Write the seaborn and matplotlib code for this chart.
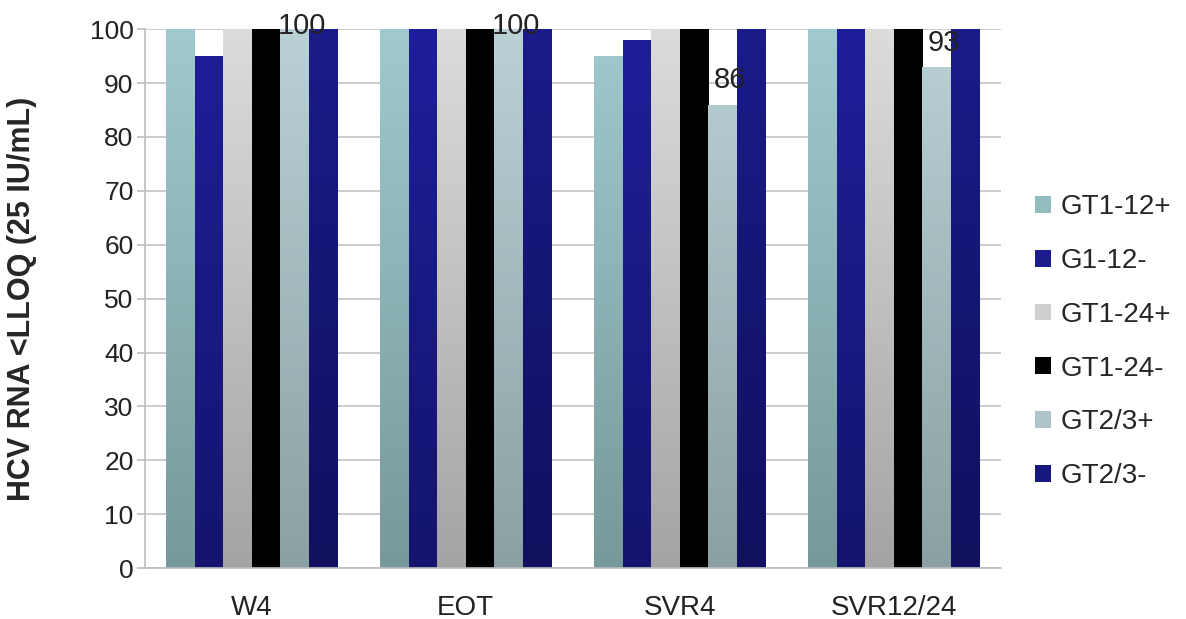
import numpy as np
import pandas as pd
import matplotlib
matplotlib.use('Agg')
import matplotlib.pyplot as plt
import seaborn as sns
from matplotlib.colors import LinearSegmentedColormap
from matplotlib.patches import Patch

# data
timepoints = ['W4', 'EOT', 'SVR4', 'SVR12/24']
groups = ['GT1-12+', 'G1-12-', 'GT1-24+', 'GT1-24-', 'GT2/3+', 'GT2/3-']
gt1_12_pos = [100, 100, 95, 100]
g1_12_neg = [95, 100, 98, 100]
gt1_24_pos = [100, 100, 100, 100]
gt1_24_neg = [100, 100, 100, 100]
gt23_pos = [100, 100, 86, 93]
gt23_neg = [100, 100, 100, 100]
labels_shown = ['100', '100', '86', '93']   # data labels for GT2/3+

series = [gt1_12_pos, g1_12_neg, gt1_24_pos, gt1_24_neg, gt23_pos, gt23_neg]
rows = []
for g, vals in zip(groups, series):
    for t, v in zip(timepoints, vals):
        rows.append({'Timepoint': t, 'Group': g, 'Value': v})
df = pd.DataFrame(rows)

# gradient colours (top, bottom)
grads = [('#a0cacd', '#76999b'),
         ('#1e1e9a', '#14146e'),
         ('#dcdcdc', '#a4a4a4'),
         ('#000000', '#000000'),
         ('#bad1d5', '#8aa0a3'),
         ('#1b1b8a', '#10105e')]
mid_cols = ['#93bcbf', '#1c1c8f', '#cfcfcf', '#000000', '#aec4c8', '#171780']

sns.set_style('white')
plt.rcParams['font.family'] = ['Liberation Sans', 'DejaVu Sans']

fig, ax = plt.subplots(figsize=(11.86, 6.19), dpi=100)
fig.subplots_adjust(left=0.122, right=0.844, top=0.953, bottom=0.082)

sns.barplot(data=df, x='Timepoint', y='Value', hue='Group', order=timepoints,
            hue_order=groups, palette=mid_cols, width=0.8, saturation=1,
            linewidth=0, ax=ax, legend=False, zorder=2)

# gradient fill on each bar
grad_img = np.linspace(0, 1, 256).reshape(-1, 1)
bars = ax.patches
for i, g in enumerate(groups):
    cmap = LinearSegmentedColormap.from_list('g%d' % i, [grads[i][1], grads[i][0]])
    for j in range(len(timepoints)):
        p = bars[i * len(timepoints) + j]
        x0, w = p.get_x(), p.get_width()
        p.set_facecolor('none')
        im = ax.imshow(grad_img, cmap=cmap, origin='lower', aspect='auto',
                       extent=[x0, x0 + w, 0, 100], zorder=2)
        im.set_clip_path(p)

# data labels over GT2/3+
k = groups.index('GT2/3+')
for j in range(len(timepoints)):
    p = bars[k * len(timepoints) + j]
    v = gt23_pos[j]
    ax.text(p.get_x() + p.get_width() * 0.75, min(v + 4.5, 100.6), labels_shown[j],
            ha='center', va='center', fontsize=21, color='#222222', zorder=5,
            clip_on=False)

ax.set_xlim(-0.5, 3.5)
ax.set_ylim(0, 100)
ax.set_yticks(range(0, 101, 10))
ax.yaxis.grid(True, color='#c4c4c4', linewidth=1.2, zorder=0)
ax.set_axisbelow(True)
ax.set_xlabel('')
ax.set_ylabel('HCV RNA <LLOQ (25 IU/mL)', fontsize=22, fontweight='bold', labelpad=38)

# x ticks at group boundaries, labels at centres
ax.set_xticks(np.arange(-0.5, 4, 1))
ax.set_xticklabels([])
ax.set_xticks(range(len(timepoints)), minor=True)
ax.set_xticklabels(timepoints, minor=True, fontsize=20, color='#222222')
ax.tick_params(axis='x', which='minor', length=0, pad=19)
ax.tick_params(axis='x', which='major', length=8, width=1.2, color='#bdbdbd', direction='out')
ax.tick_params(axis='y', length=6, width=1.2, color='#bdbdbd', labelsize=19,
               labelcolor='#222222', direction='out', left=True, pad=2)

for s in ['top', 'right']:
    ax.spines[s].set_visible(False)
for s in ['left', 'bottom']:
    ax.spines[s].set_color('#bdbdbd')
    ax.spines[s].set_linewidth(1.2)

handles = [Patch(facecolor=c, edgecolor='none') for c in mid_cols]
ax.legend(handles, groups, loc='center left', bbox_to_anchor=(1.04, 0.42),
          frameon=False, fontsize=20, handlelength=0.55, handleheight=0.55,
          handletextpad=0.35, labelspacing=1.0, borderpad=0, borderaxespad=0)

fig.savefig('out.png', dpi=100)
